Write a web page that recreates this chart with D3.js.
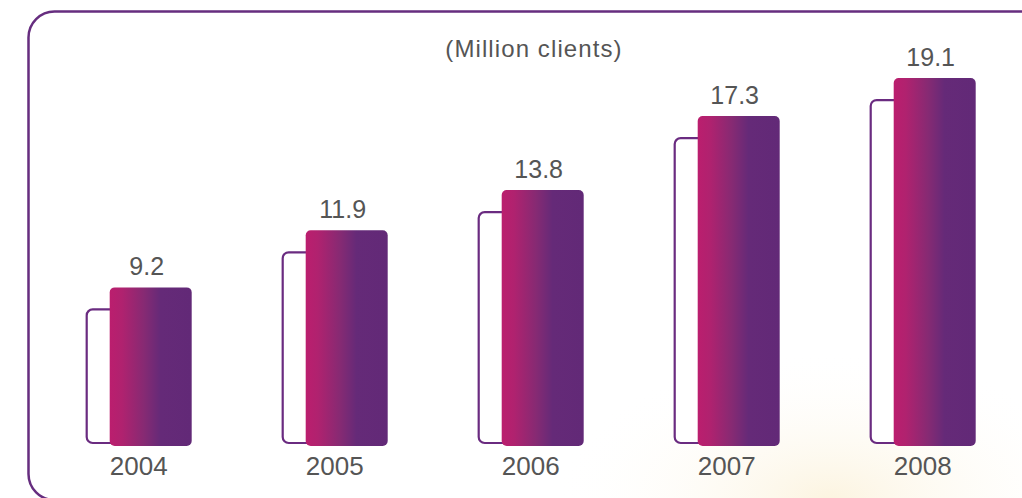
<!DOCTYPE html>
<meta charset="utf-8">
<style>
body { margin: 0; background: #fff; }
text { font-family: "Liberation Sans", Arial, Helvetica, sans-serif; fill: #555; }
</style>
<body>
<div id="chart"></div>
<script src="https://cdn.jsdelivr.net/npm/d3@7"></script>
<script>
var years = ['2004', '2005', '2006', '2007', '2008']
var clients = [9.2, 11.9, 13.8, 17.3, 19.1]
var title = '(Million clients)'

var width = 1022
var height = 498
var base = 446

var svg = d3.select('#chart')
    .append('svg')
    .attr('width', width)
    .attr('height', height)

var defs = svg.append('defs')

var grad = defs.append('linearGradient')
    .attr('id', 'barGrad')
    .attr('x1', '0%').attr('x2', '100%')
    .attr('y1', '0%').attr('y2', '0%')
grad.append('stop').attr('offset', '0%').attr('stop-color', '#bb1e6e')
grad.append('stop').attr('offset', '15%').attr('stop-color', '#b0226f')
grad.append('stop').attr('offset', '42%').attr('stop-color', '#862a73')
grad.append('stop').attr('offset', '62%').attr('stop-color', '#652a78')
grad.append('stop').attr('offset', '100%').attr('stop-color', '#622977')

var glow = defs.append('radialGradient')
    .attr('id', 'glow')
    .attr('cx', '50%').attr('cy', '50%').attr('r', '50%')
glow.append('stop').attr('offset', '0%').attr('stop-color', '#fbf1d8').attr('stop-opacity', 0.8)
glow.append('stop').attr('offset', '100%').attr('stop-color', '#fff').attr('stop-opacity', 0)

// faint decorative background in the lower right corner
svg.append('ellipse')
    .attr('cx', 830)
    .attr('cy', 500)
    .attr('rx', 280)
    .attr('ry', 150)
    .style('fill', 'url(#glow)')

// rounded frame, running off the right and bottom edges
svg.append('rect')
    .attr('x', 28.5)
    .attr('y', 11.5)
    .attr('width', 1050)
    .attr('height', 488.5)
    .attr('rx', 26)
    .style('fill', 'none')
    .style('stroke', '#662d7f')
    .style('stroke-width', 2.5)

var x = d3.scalePoint()
    .domain(years)
    .range([138.7, 922.7])

var y = d3.scaleLinear()
    .domain([1.7, 20])
    .range([base, 59])

var data = years.map(function (d, i) { return { year: d, value: clients[i] } })

// hollow shadow bars
svg.selectAll('rect.shadow')
    .data(data)
    .enter()
    .append('rect')
    .attr('class', 'shadow')
    .attr('x', function (d) { return x(d.year) - 52 })
    .attr('y', function (d) { return y(d.value) + 22 })
    .attr('width', 60)
    .attr('height', function (d) { return base - 3 - (y(d.value) + 22) })
    .attr('rx', 6)
    .style('fill', '#fff')
    .style('stroke', '#6a2b80')
    .style('stroke-width', 2.2)

// filled bars
svg.selectAll('rect.bar')
    .data(data)
    .enter()
    .append('rect')
    .attr('class', 'bar')
    .attr('x', function (d) { return x(d.year) - 29 })
    .attr('y', function (d) { return y(d.value) })
    .attr('width', 82)
    .attr('height', function (d) { return base - y(d.value) })
    .attr('rx', 5)
    .style('fill', 'url(#barGrad)')

svg.selectAll('text.value')
    .data(data)
    .enter()
    .append('text')
    .attr('class', 'value')
    .attr('x', function (d) { return x(d.year) + 8 })
    .attr('y', function (d) { return y(d.value) - 12 })
    .attr('text-anchor', 'middle')
    .style('font-size', '25px')
    .text(function (d) { return d.value.toFixed(1) })

svg.selectAll('text.year')
    .data(data)
    .enter()
    .append('text')
    .attr('class', 'year')
    .attr('x', function (d) { return x(d.year) })
    .attr('y', 475)
    .attr('text-anchor', 'middle')
    .style('font-size', '26px')
    .text(function (d) { return d.year })

svg.append('text')
    .attr('x', 534)
    .attr('y', 57)
    .attr('text-anchor', 'middle')
    .style('font-size', '24px')
    .style('letter-spacing', '1.1px')
    .text(title)
</script>
</body>
